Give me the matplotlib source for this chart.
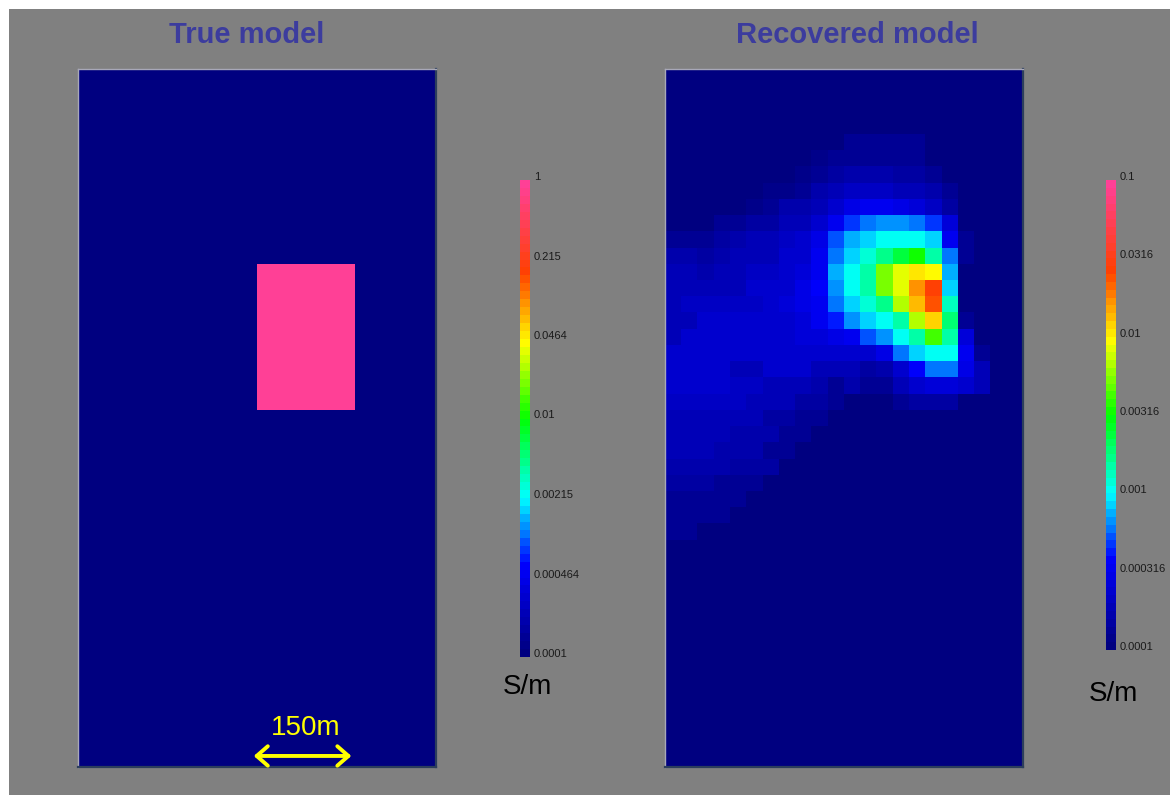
import matplotlib.pyplot as plt
import numpy as np
from matplotlib.colors import LinearSegmentedColormap, ListedColormap, LogNorm
from matplotlib.patches import Rectangle
from matplotlib.ticker import NullLocator

plt.rcParams['font.family'] = ['Liberation Sans', 'DejaVu Sans']

# ===DATA===
# model mesh: 22 x 43 cells, 25 m each
n_cols, n_rows = 22, 43
cell_m = 25.0

# true model: resistive background with one conductive block
true_background = 1e-4
true_block = 1.0
block_cols = (11, 17)
block_rows = (12, 21)

true_ticks = [1e-4, 4.64e-4, 2.15e-3, 1e-2, 4.64e-2, 0.215, 1.0]
true_labels = ['0.0001', '0.000464', '0.00215', '0.01', '0.0464', '0.215', '1']
rec_ticks = [1e-4, 3.16e-4, 1e-3, 3.16e-3, 1e-2, 3.16e-2, 0.1]
rec_labels = ['0.0001', '0.000316', '0.001', '0.00316', '0.01', '0.0316', '0.1']

# recovered model, log10(S/m), one row per depth cell
B = -4.0
rec_log = [
    [B] * 22,
    [B] * 22,
    [B] * 22,
    [B] * 22,
    [B] * 9 + [-3.95, -3.95, -3.9, -3.9, -3.9, -3.9, -3.9] + [B] * 6,
    [B] * 8 + [-3.97, -3.92, -3.9, -3.86, -3.86, -3.86, -3.86, -3.88, -3.95] + [B] * 5,
    [B] * 8 + [-3.92, -3.88, -3.83, -3.79, -3.79, -3.79, -3.81, -3.81, -3.86, -3.98] + [B] * 4,
    [B] * 6 + [-3.94, -3.92, -3.86, -3.79, -3.74, -3.68, -3.68, -3.68, -3.7, -3.72, -3.77, -3.86] + [B] * 4,
    [B] * 5 + [-3.92, -3.86, -3.79, -3.79, -3.72, -3.63, -3.54, -3.5, -3.5, -3.54, -3.59, -3.68, -3.81] + [B] * 4,
    [-3.98, -3.98, -3.98, -3.9, -3.9, -3.83, -3.83, -3.74, -3.74, -3.65, -3.5, -3.32, -3.2, -3.17, -3.17, -3.2, -3.32, -3.59] + [B] * 4,
    [-3.86, -3.86, -3.86, -3.83, -3.79, -3.74, -3.72, -3.68, -3.63, -3.52, -3.3, -3.15, -3.07, -3.0, -2.97, -3.0, -3.1, -3.5, -3.9] + [B] * 3,
    [-3.79, -3.79, -3.81, -3.79, -3.74, -3.7, -3.7, -3.65, -3.61, -3.47, -3.2, -3.07, -2.91, -2.77, -2.62, -2.5, -2.85, -3.23, -3.9] + [B] * 3,
    [-3.74, -3.74, -3.77, -3.74, -3.7, -3.68, -3.68, -3.63, -3.56, -3.45, -3.15, -3.0, -2.81, -2.29, -2.09, -1.98, -2.05, -3.13, -3.97] + [B] * 3,
    [-3.72, -3.72, -3.72, -3.7, -3.7, -3.65, -3.65, -3.61, -3.54, -3.43, -3.18, -3.0, -2.81, -2.29, -2.07, -1.8, -1.58, -3.07] + [B] * 4,
    [-3.72, -3.68, -3.68, -3.68, -3.68, -3.68, -3.63, -3.59, -3.52, -3.47, -3.23, -3.1, -2.93, -2.77, -2.18, -1.9, -1.61, -2.89] + [B] * 4,
    [-3.7, -3.7, -3.65, -3.65, -3.65, -3.65, -3.61, -3.61, -3.56, -3.5, -3.38, -3.18, -3.1, -3.0, -2.83, -2.2, -1.93, -2.75, -3.9] + [B] * 3,
    [-3.7, -3.65, -3.65, -3.65, -3.65, -3.65, -3.63, -3.63, -3.56, -3.56, -3.54, -3.5, -3.3, -3.17, -3.0, -2.85, -2.35, -2.83, -3.59] + [B] * 3,
    [-3.65, -3.65, -3.65, -3.65, -3.65, -3.65, -3.65, -3.63, -3.63, -3.63, -3.63, -3.63, -3.63, -3.54, -3.25, -3.1, -3.0, -3.0, -3.5, -3.9, B, B],
    [-3.65, -3.65, -3.65, -3.65, -3.7, -3.7, -3.65, -3.65, -3.65, -3.72, -3.72, -3.7, -3.81, -3.79, -3.65, -3.43, -3.2, -3.2, -3.52, -3.72, B, B],
    [-3.65, -3.65, -3.65, -3.65, -3.68, -3.68, -3.72, -3.72, -3.72, -3.79, -3.86, -3.77, -3.9, -3.9, -3.74, -3.65, -3.59, -3.56, -3.61, -3.74, B, B],
    [-3.68, -3.68, -3.68, -3.68, -3.68, -3.74, -3.74, -3.74, -3.81, -3.81, -3.9, B, B, B, -3.86, -3.81, -3.81, -3.81, B, B, B, B],
    [-3.7, -3.7, -3.7, -3.7, -3.74, -3.74, -3.81, -3.81, -3.88, -3.88, -3.95] + [B] * 11,
    [-3.72, -3.72, -3.72, -3.72, -3.79, -3.79, -3.79, -3.86, -3.86, -3.97] + [B] * 12,
    [-3.74, -3.74, -3.74, -3.79, -3.79, -3.79, -3.86, -3.86] + [B] * 14,
    [-3.77, -3.77, -3.77, -3.77, -3.83, -3.83, -3.83] + [B] * 15,
    [-3.81, -3.81, -3.81, -3.86, -3.86, -3.86] + [B] * 16,
    [-3.86, -3.86, -3.86, -3.86, -3.86] + [B] * 17,
    [-3.88, -3.88, -3.88, -3.88] + [B] * 18,
    [-3.9, -3.9] + [B] * 20,
] + [[B] * 22 for _ in range(14)]

# ===MODELS===
true_model = np.full((n_rows, n_cols), true_background)
true_model[block_rows[0]:block_rows[1], block_cols[0]:block_cols[1]] = true_block
rec_model = 10.0 ** np.array(rec_log)

# rainbow colour scale, navy -> blue -> cyan -> green -> yellow -> red -> pink
base = LinearSegmentedColormap.from_list('cond', [
    (0.0, (0, 0, 128 / 255)),
    (0.19, (0, 0, 1)),
    (0.33, (0, 1, 1)),
    (0.5, (0, 1, 0)),
    (0.66, (1, 1, 0)),
    (0.81, (1, 64 / 255, 0)),
    (1.0, (1, 64 / 255, 150 / 255)),
])
cmap = ListedColormap(base(np.linspace(0, 1, 60)))

W, H = 1170, 795
fig = plt.figure(figsize=(W / 100, H / 100), dpi=100, facecolor='white')
fig.add_artist(Rectangle((9 / W, 0), 1, 1 - 9 / H, transform=fig.transFigure,
                         facecolor='#808080', edgecolor='none', zorder=-10))


def px(x0, y0, w, h):
    return [x0 / W, 1 - (y0 + h) / H, w / W, h / H]


extent = (0, n_cols * cell_m, n_rows * cell_m, 0)
panels = [
    ('True model', true_model, 1e-4, 1.0, true_ticks, true_labels, 78, 247, 520, 657, (527, 694)),
    ('Recovered model', rec_model, 1e-4, 0.1, rec_ticks, rec_labels, 665, 857, 1106, 650, (1113, 701)),
]
axes = []
for title, data, vmin, vmax, ticks, labels, x0, tx, cx, cbot, unit_xy in panels:
    ax = fig.add_axes(px(x0, 69, 358, 698))
    im = ax.imshow(data, cmap=cmap, norm=LogNorm(vmin=vmin, vmax=vmax),
                   extent=extent, interpolation='nearest', aspect='auto')
    ax.set_xticks([])
    ax.set_yticks([])
    for side in ['top', 'left']:
        ax.spines[side].set_color('#a8a8b8')
        ax.spines[side].set_linewidth(1.0)
    for side in ['bottom', 'right']:
        ax.spines[side].set_color('#2c3e5c')
        ax.spines[side].set_linewidth(1.6)
    fig.text(tx / W, 1 - 43 / H, title, fontsize=21, fontweight='bold',
             color='#3c3c9e', ha='center', va='baseline')

    cax = fig.add_axes(px(cx, 180, 9.5, cbot - 180))
    cb = fig.colorbar(im, cax=cax)
    cb.outline.set_visible(False)
    cb.set_ticks(ticks)
    cb.set_ticklabels(labels)
    cax.yaxis.set_minor_locator(NullLocator())
    cax.tick_params(length=0, pad=3, labelsize=8, labelcolor='#1a1a1a')
    for lbl in cax.get_yticklabels():
        lbl.set_va('baseline')
    fig.text(unit_xy[0] / W, 1 - unit_xy[1] / H, 'S/m', fontsize=20,
             ha='center', va='baseline', color='black')
    axes.append(ax)

# scale bar on the true model
ax_true = axes[0]
ax_true.text(350, 1025, '150m', color='yellow', fontsize=20, ha='center', va='baseline')
ax_true.annotate('', xy=(270, 1058), xytext=(420, 1058),
                 arrowprops=dict(arrowstyle='<->,head_length=0.4,head_width=0.35',
                                 color='yellow', lw=2.8, mutation_scale=20,
                                 shrinkA=0, shrinkB=0))

plt.savefig('out.png', dpi=100, facecolor=fig.get_facecolor())
